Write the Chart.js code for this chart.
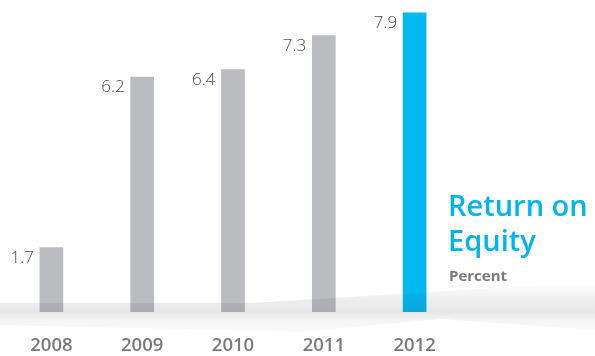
<!DOCTYPE html>
<html>
<head>
<meta charset="utf-8">
<script src="https://cdn.jsdelivr.net/npm/chart.js@4/dist/chart.umd.min.js"></script>
<style>
  html, body { margin: 0; padding: 0; background: #ffffff; }
  #wrap { position: relative; width: 595px; height: 356px; overflow: hidden; }
  #title { position: absolute; left: 448px; top: 187px; font-family: "Open Sans", sans-serif; color: #00b5ef; font-weight: 600; font-size: 29px; line-height: 35px; white-space: nowrap; }
  #sub { position: absolute; left: 449px; top: 265px; font-family: "Open Sans", sans-serif; color: #7a7a7c; font-weight: 700; font-size: 15px; white-space: nowrap; }
</style>
</head>
<body>
<div id="wrap">
  <canvas id="c" width="595" height="356"></canvas>
  <div id="title">Return on<br>Equity</div>
  <div id="sub">Percent</div>
</div>
<script>
const categories = ["2008", "2009", "2010", "2011", "2012"];
const roeValues = [1.7, 6.2, 6.4, 7.3, 7.9];
const valueLabels = ["1.7", "6.2", "6.4", "7.3", "7.9"];
const barColors = ["#bbbcc0", "#bbbcc0", "#bbbcc0", "#bbbcc0", "#00b9f1"];

const floorBand = {
  id: 'floorBand',
  afterDatasetsDraw(chart) {
    const ctx = chart.ctx;
    const W = chart.width;
    ctx.save();
    let g = ctx.createLinearGradient(0, 283, 0, 303);
    g.addColorStop(0, 'rgba(60,60,70,0.0)');
    g.addColorStop(1, 'rgba(60,60,70,0.10)');
    ctx.fillStyle = g;
    ctx.beginPath();
    ctx.moveTo(250, 303);
    ctx.lineTo(W, 282);
    ctx.lineTo(W, 303);
    ctx.closePath();
    ctx.fill();
    g = ctx.createLinearGradient(0, 303, 0, 318);
    g.addColorStop(0, 'rgba(60,60,70,0.09)');
    g.addColorStop(0.6, 'rgba(60,60,70,0.13)');
    g.addColorStop(1, 'rgba(60,60,70,0.07)');
    ctx.fillStyle = g;
    ctx.fillRect(0, 303, W, 15);
    g = ctx.createLinearGradient(0, 318, 0, 333);
    g.addColorStop(0, 'rgba(60,60,70,0.06)');
    g.addColorStop(1, 'rgba(60,60,70,0.02)');
    ctx.fillStyle = g;
    ctx.beginPath();
    ctx.moveTo(0, 318);
    ctx.lineTo(W, 318);
    ctx.lineTo(W, 330);
    ctx.lineTo(440, 319);
    ctx.lineTo(300, 332);
    ctx.lineTo(0, 325);
    ctx.closePath();
    ctx.fill();
    ctx.restore();
  }
};

const valueLabelPlugin = {
  id: 'valueLabels',
  afterDatasetsDraw(chart) {
    const ctx = chart.ctx;
    const meta = chart.getDatasetMeta(0);
    ctx.save();
    ctx.font = '300 17px "Open Sans", sans-serif';
    ctx.fillStyle = '#4a4a4a';
    ctx.textAlign = 'right';
    ctx.textBaseline = 'alphabetic';
    meta.data.forEach((bar, i) => {
      const left = bar.x - bar.width / 2;
      ctx.fillText(valueLabels[i], left - 6, bar.y + 15);
    });
    ctx.restore();
  }
};

new Chart(document.getElementById('c'), {
  type: 'bar',
  data: {
    labels: categories,
    datasets: [{
      data: roeValues,
      backgroundColor: barColors,
      borderWidth: 0,
      barThickness: 23
    }]
  },
  options: {
    responsive: false,
    animation: false,
    events: [],
    layout: { padding: { left: 6, right: 135, top: 9, bottom: 0 } },
    plugins: { legend: { display: false }, tooltip: { enabled: false }, title: { display: false } },
    scales: {
      y: { display: false, min: 0, max: 8 },
      x: {
        grid: { display: false, drawTicks: false, tickLength: 0 },
        border: { display: false },
        afterFit(scale) { scale.height = 44; },
        ticks: { padding: 23, color: '#7a7a7a', font: { family: '"Open Sans", sans-serif', size: 18.5, weight: '600' } }
      }
    }
  },
  plugins: [floorBand, valueLabelPlugin]
});
</script>
</body>
</html>
